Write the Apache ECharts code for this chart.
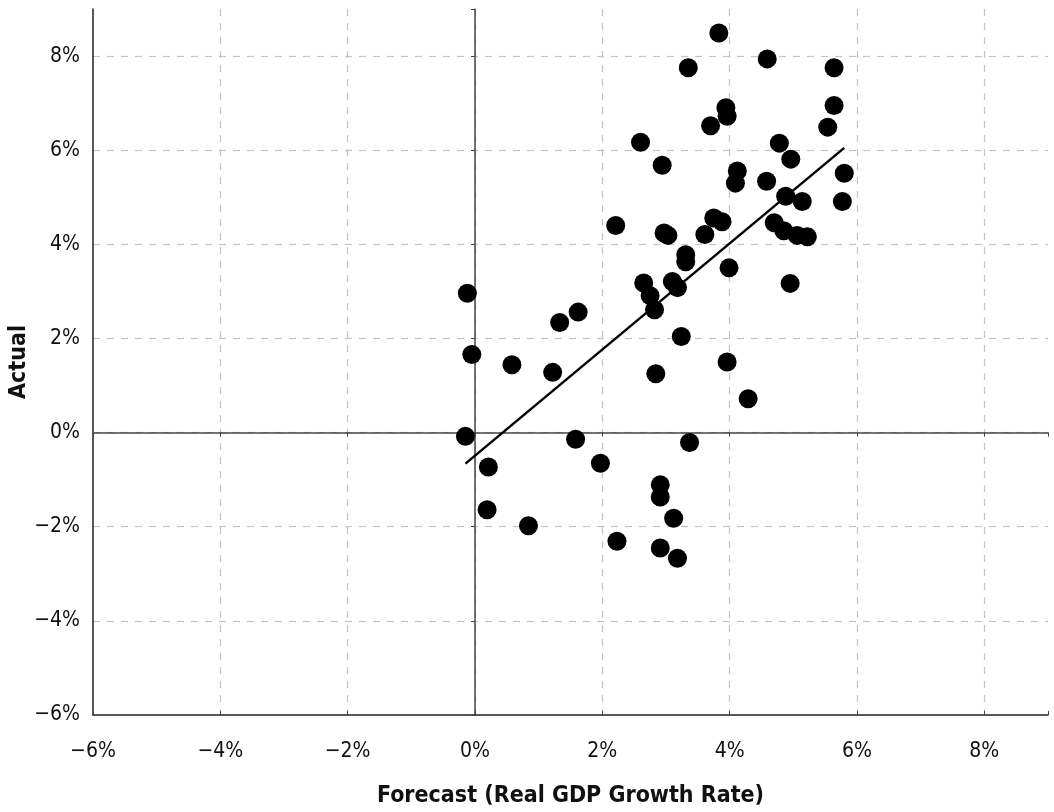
<!DOCTYPE html>
<html>
<head>
<meta charset="utf-8">
<script src="https://cdn.jsdelivr.net/npm/echarts@6/dist/echarts.min.js"></script>
<style>
html,body{margin:0;padding:0;background:#fff;}
#chart{width:1054px;height:812px;}
</style>
</head>
<body>
<div id="chart"></div>
<script>
// Forecast (x, %) and Actual (y, %) values
const forecast = [-0.12, -0.05, -0.15, 0.21, 0.19, 0.58, 0.84, 1.22, 1.33, 1.62,
  1.58, 1.97, 2.23, 2.21, 2.60, 2.94, 2.97, 3.03, 2.65, 2.75,
  2.82, 3.10, 3.18, 2.84, 3.24, 2.91, 2.91, 3.12, 2.91, 3.18,
  3.37, 3.31, 3.31, 3.35, 3.83, 3.94, 3.96, 3.70, 3.61, 3.75,
  3.88, 4.12, 4.09, 3.99, 3.96, 4.29, 4.59, 4.58, 4.78, 4.96,
  4.88, 5.14, 4.70, 4.85, 5.06, 5.22, 4.95, 5.64, 5.64, 5.54,
  5.80, 5.77];
const actual = [2.96, 1.66, -0.08, -0.73, -1.64, 1.44, -1.98, 1.28, 2.34, 2.56,
  -0.14, -0.65, -2.31, 4.40, 6.17, 5.68, 4.24, 4.19, 3.18, 2.91,
  2.61, 3.21, 3.08, 1.25, 2.04, -1.11, -1.37, -1.82, -2.45, -2.67,
  -0.21, 3.78, 3.63, 7.75, 8.49, 6.90, 6.72, 6.52, 4.21, 4.56,
  4.48, 5.56, 5.30, 3.50, 1.50, 0.72, 7.94, 5.34, 6.15, 5.81,
  5.02, 4.91, 4.46, 4.29, 4.19, 4.16, 3.17, 7.75, 6.95, 6.49,
  5.51, 4.91];
// Fitted trend line end points
const trendX = [-0.15, 5.80];
const trendY = [-0.66, 6.05];
// Axis settings
const xMin = -6, xMax = 9, yMin = -6, yMax = 9, step = 2;
const xTitle = 'Forecast (Real GDP Growth Rate)';
const yTitle = 'Actual';

const FONT = "'DejaVu Sans Condensed', 'Liberation Sans Narrow', 'Roboto', sans-serif";
const pct = v => (v === xMax || v === yMax) ? '' : (String(v).replace('-', '\u2212') + '%');

const points = forecast.map((x, i) => [x, actual[i]]);
const trend = trendX.map((x, i) => [x, trendY[i]]);

const grid = {left: 93, right: 6, top: 9, bottom: 97, containLabel: false, outerBoundsMode: 'none'};
const splitLine = {show: true, showMaxLine: false, showMinLine: false,
  lineStyle: {color: '#c4c4c4', type: [7, 7], width: 1.2}};

const chart = echarts.init(document.getElementById('chart'), null, {renderer: 'canvas'});
chart.setOption({
  animation: false,
  backgroundColor: '#fff',
  grid: grid,
  xAxis: [{
    type: 'value', min: xMin, max: xMax, interval: step,
    axisLine: {show: true, onZero: false, lineStyle: {color: '#222', width: 1.5}},
    axisTick: {show: true, inside: true, length: 4, lineStyle: {color: '#444'}},
    axisLabel: {formatter: pct, color: '#111', fontFamily: FONT, fontSize: 21, margin: 26},
    splitLine: splitLine,
    name: xTitle, nameLocation: 'middle', nameGap: 70, nameMoveOverlap: false,
    nameTextStyle: {fontFamily: FONT, fontSize: 23, fontWeight: 'bold', color: '#111'}
  }, {
    type: 'value', min: xMin, max: xMax, interval: step, position: 'bottom',
    axisLine: {show: true, onZero: true, onZeroAxisIndex: 0, lineStyle: {color: '#444', width: 1.5}},
    axisTick: {show: true, inside: false, length: 4, lineStyle: {color: '#444'}},
    axisLabel: {show: false}, splitLine: {show: false}
  }],
  yAxis: [{
    type: 'value', min: yMin, max: yMax, interval: step,
    axisLine: {show: true, onZero: false, lineStyle: {color: '#222', width: 1.5}},
    axisTick: {show: false},
    axisLabel: {formatter: pct, color: '#111', fontFamily: FONT, fontSize: 21, margin: 13},
    splitLine: splitLine,
    name: yTitle, nameLocation: 'middle', nameGap: 62, nameRotate: 90, nameMoveOverlap: false,
    nameTextStyle: {fontFamily: FONT, fontSize: 23, fontWeight: 'bold', color: '#111'}
  }, {
    type: 'value', min: yMin, max: yMax, interval: step, position: 'left',
    axisLine: {show: true, onZero: true, onZeroAxisIndex: 0, lineStyle: {color: '#444', width: 1.5}},
    axisTick: {show: true, inside: false, length: 4, lineStyle: {color: '#444'}},
    axisLabel: {show: false}, splitLine: {show: false}
  }],
  series: [{
    type: 'scatter', xAxisIndex: 0, yAxisIndex: 0,
    data: points, symbol: 'circle', symbolSize: 19,
    itemStyle: {color: '#000', opacity: 1}, z: 3
  }, {
    type: 'line', xAxisIndex: 0, yAxisIndex: 0,
    data: trend, showSymbol: false, symbol: 'none',
    lineStyle: {color: '#000', width: 2.5}, z: 4
  }]
});
</script>
</body>
</html>
